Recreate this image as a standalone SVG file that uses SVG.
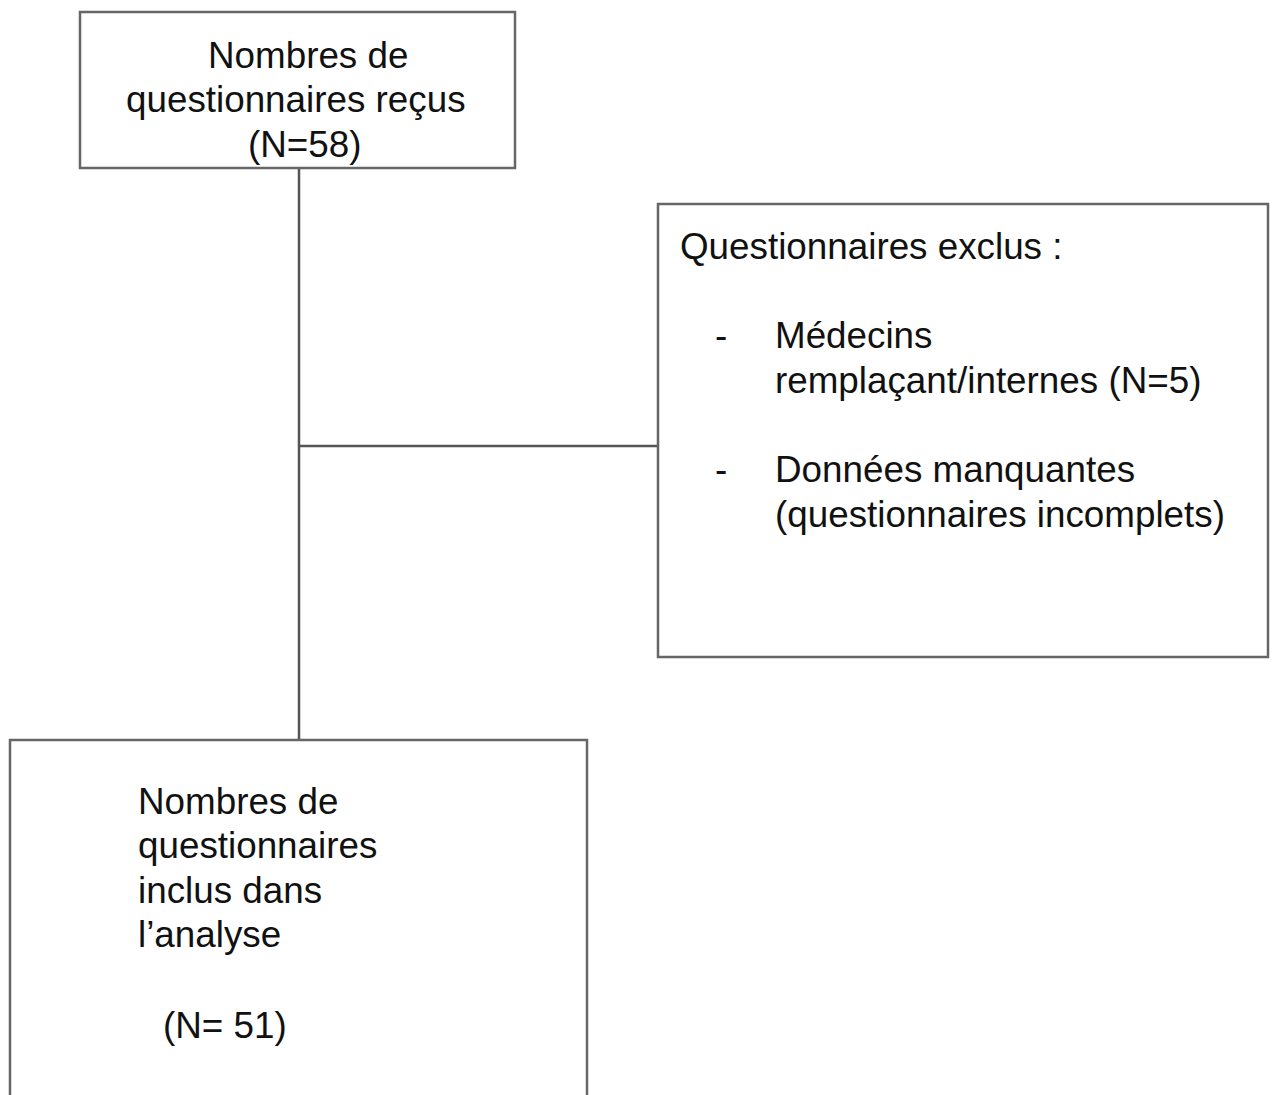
<svg xmlns="http://www.w3.org/2000/svg" width="1274" height="1095" viewBox="0 0 1274 1095">
<style>
.box{fill:#fff;stroke:#666;stroke-width:2.5}
.t{font-family:"Liberation Sans",Arial,sans-serif;font-size:36.8px;fill:#111}
.c{fill:none;stroke:#555;stroke-width:2.5}
</style>
<rect width="1274" height="1095" fill="#fff"/>
<g id="connectors">
<line class="c" x1="299" y1="168" x2="299" y2="740"/>
<line class="c" x1="299" y1="446" x2="658" y2="446"/>
</g>
<g id="recus">
<rect class="box" x="80" y="12" width="435" height="156"/>
<text class="t" x="208" y="68">Nombres de</text>
<text class="t" x="126" y="112">questionnaires reçus</text>
<text class="t" x="248" y="157">(N=58)</text>
</g>
<g id="exclus">
<rect class="box" x="658" y="204" width="610" height="453"/>
<text class="t" x="680" y="259">Questionnaires exclus :</text>
<text class="t" x="715" y="348">-</text>
<text class="t" x="775" y="348">Médecins</text>
<text class="t" x="775" y="393">remplaçant/internes (N=5)</text>
<text class="t" x="715" y="482">-</text>
<text class="t" x="775" y="482">Données manquantes</text>
<text class="t" x="775" y="527">(questionnaires incomplets)</text>
</g>
<g id="inclus">
<rect class="box" x="10" y="740" width="577" height="400"/>
<text class="t" x="138" y="814">Nombres de</text>
<text class="t" x="138" y="858">questionnaires</text>
<text class="t" x="138" y="903">inclus dans</text>
<text class="t" x="138" y="947">l’analyse</text>
<text class="t" x="163" y="1038">(N= 51)</text>
</g>
</svg>
